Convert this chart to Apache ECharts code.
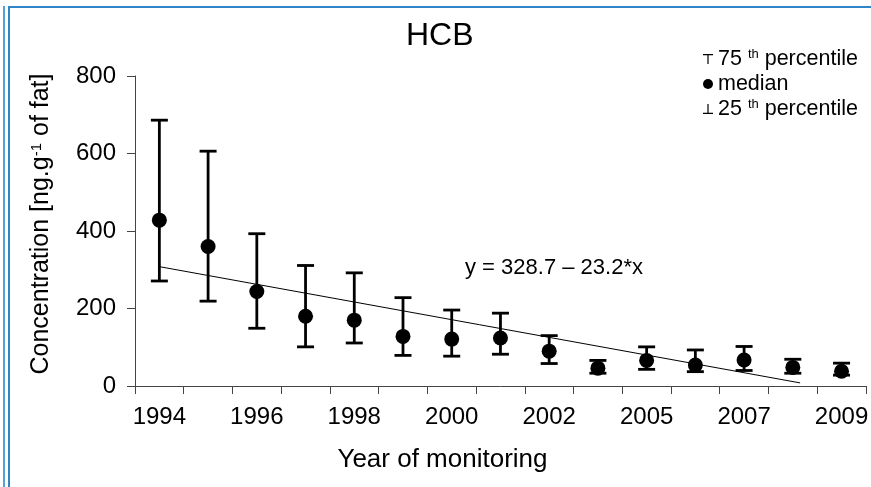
<!DOCTYPE html>
<html>
<head>
<meta charset="utf-8">
<script src="https://cdn.jsdelivr.net/npm/echarts@6/dist/echarts.min.js"></script>
<style>
  body { margin: 0; background: #fff; }
  #main { width: 871px; height: 487px; }
  .edge { position: absolute; background: #2e86c8; }
</style>
</head>
<body>
<div id="main"></div>
<div class="edge" style="left:3px;top:6px;width:2px;height:481px;background:#5a9fd4"></div>
<div class="edge" style="left:8px;top:6px;width:2px;height:481px"></div>
<div class="edge" style="left:8px;top:6px;width:863px;height:2px"></div>
<script>
// categories (2003 not sampled)
var years = ['1994', '1995', '1996', '1997', '1998', '1999', '2000', '2001', '2002', '2004', '2005', '2006', '2007', '2008', '2009'];
// median concentration
var median = [428, 360, 244, 180, 170, 128, 121, 124, 90, 46, 66, 54, 67, 48, 38];
// 75th / 25th percentiles
var p75 = [686, 606, 393, 311, 292, 228, 196, 188, 130, 66, 101, 93, 102, 69, 59];
var p25 = [271, 219, 149, 101, 111, 79, 77, 82, 58, 33, 43, 37, 40, 33, 28];
// linear trend drawn on the picture (category index -> value)
var trendX = [0, 13.15];
var trendY = [308, 8];

var font = "'Liberation Sans', Arial, sans-serif";

var upperData = [], lowerData = [], medData = [], trendData = [];
for (var i = 0; i < years.length; i++) {
  upperData.push([i, median[i], p75[i]]);
  lowerData.push([i, p25[i], median[i]]);
  medData.push([i, median[i]]);
}
for (var j = 0; j < trendX.length; j++) {
  trendData.push([trendX[j], trendY[j]]);
}

// whisker with a cap at the top (capTop) or bottom
function whisker(capTop) {
  return function (params, api) {
    var a = api.coord([api.value(0), api.value(1)]);
    var b = api.coord([api.value(0), api.value(2)]);
    var capY = capTop ? b[1] : a[1];
    var w = 8.5;
    return {
      type: 'group',
      children: [
        { type: 'line', shape: { x1: a[0], y1: a[1], x2: b[0], y2: b[1] }, style: { stroke: '#000', lineWidth: 2.8 } },
        { type: 'line', shape: { x1: a[0] - w, y1: capY, x2: a[0] + w, y2: capY }, style: { stroke: '#000', lineWidth: 2.8 } }
      ]
    };
  };
}

var myChart = echarts.init(document.getElementById('main'));
var option = {
  animation: false,
  textStyle: { fontFamily: font },
  title: {
    text: 'HCB',
    left: 401,
    top: 15,
    textStyle: { fontSize: 32, fontWeight: 'normal', color: '#000', fontFamily: font }
  },
  legend: {
    orient: 'vertical',
    left: 698,
    top: 43,
    itemWidth: 10,
    itemHeight: 10,
    itemGap: 3,
    selectedMode: false,
    data: [
      { name: '75 th percentile', icon: 'path://M0,0H10V1.2H5.6V10H4.4V1.2H0Z', itemStyle: { color: '#000', opacity: 1 } },
      { name: 'median', icon: 'circle', itemStyle: { color: '#000', opacity: 1 } },
      { name: '25 th percentile', icon: 'path://M4.4,0H5.6V8.8H10V10H0V8.8H4.4Z', itemStyle: { color: '#000', opacity: 1 } }
    ],
    formatter: function (name) {
      return name.replace('th', '{sup|th}');
    },
    textStyle: {
      fontSize: 21.5,
      color: '#000',
      fontFamily: font,
      rich: {
        sup: { fontSize: 13, verticalAlign: 'top', lineHeight: 22, padding: [0, 0, 6, 0], fontFamily: font, color: '#000' }
      }
    }
  },
  grid: { left: 135, top: 76, right: -2, bottom: 101 },
  xAxis: [
    {
      type: 'category',
      data: years,
      name: 'Year of monitoring',
      nameLocation: 'middle',
      nameGap: 61,
      nameTextStyle: { fontSize: 26, color: '#000', fontFamily: font, padding: [0, 116, 0, 0] },
      axisLine: { show: true, onZero: false, lineStyle: { color: '#444', width: 1 } },
      axisTick: { show: true, interval: 0, length: 8, lineStyle: { color: '#444' } },
      axisLabel: { interval: 1, fontSize: 24, color: '#000', margin: 19, fontFamily: font },
      splitLine: { show: false }
    },
    {
      type: 'value',
      min: -0.5,
      max: 14.5,
      show: false,
      axisLine: { onZero: false }
    }
  ],
  yAxis: {
    type: 'value',
    min: 0,
    max: 800,
    interval: 200,
    name: 'Concentration [ng.g{sup|-1} of fat]',
    nameLocation: 'middle',
    nameGap: 81,
    nameTextStyle: {
      fontSize: 25,
      color: '#000',
      fontFamily: font,
      padding: [0, 0, 0, 14],
      rich: {
        sup: { fontSize: 15, verticalAlign: 'top', lineHeight: 25, padding: [0, 0, 9, 0], fontFamily: font, color: '#000' }
      }
    },
    axisLine: { show: true, onZero: false, lineStyle: { color: '#444', width: 1 } },
    axisTick: { show: true, length: 8, lineStyle: { color: '#444' } },
    axisLabel: { fontSize: 24, color: '#000', margin: 19, fontFamily: font },
    splitLine: { show: false }
  },
  graphic: [
    {
      type: 'text',
      left: 465,
      top: 257,
      style: { text: 'y = 328.7 – 23.2*x', fontSize: 22, fill: '#000', fontFamily: font }
    }
  ],
  series: [
    {
      name: 'trend',
      type: 'line',
      xAxisIndex: 1,
      data: trendData,
      symbol: 'none',
      lineStyle: { color: '#000', width: 1 },
      z: 1
    },
    {
      name: '75 th percentile',
      type: 'custom',
      renderItem: whisker(true),
      data: upperData,
      itemStyle: { color: '#000' },
      z: 2
    },
    {
      name: '25 th percentile',
      type: 'custom',
      renderItem: whisker(false),
      data: lowerData,
      itemStyle: { color: '#000' },
      z: 2
    },
    {
      name: 'median',
      type: 'scatter',
      data: medData,
      symbol: 'circle',
      symbolSize: 15,
      itemStyle: { color: '#000', opacity: 1 },
      z: 3
    }
  ]
};
myChart.setOption(option);
</script>
</body>
</html>
